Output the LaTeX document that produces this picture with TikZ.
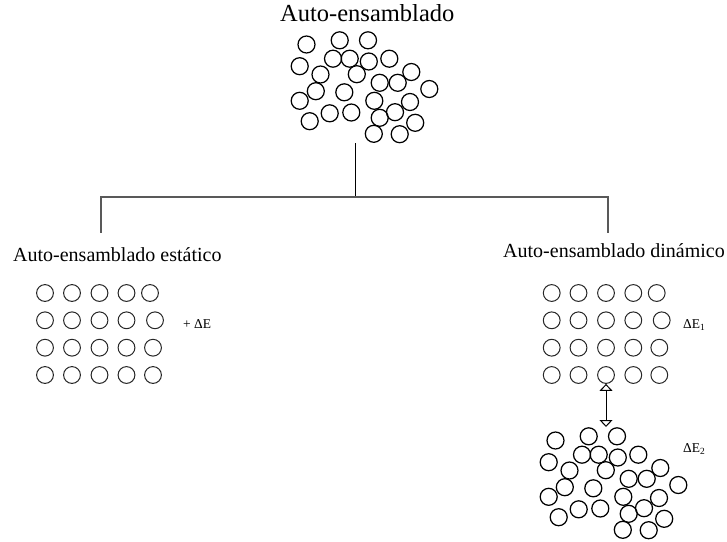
\documentclass[tikz,border=0pt]{standalone}
\usepackage{fontspec}
\setmainfont{Liberation Serif}
\usetikzlibrary{arrows.meta}
\begin{document}
\begin{tikzpicture}[x=1pt,y=-1pt,
  bead/.style={circle,draw=black,line width=1.25pt,inner sep=0pt,minimum size=17pt},
  gridbead/.style={circle,draw=black!85,line width=1pt,inner sep=0pt,minimum size=16.8pt},
  label/.style={inner sep=0pt,anchor=base west},
  titlefont/.style={font=\fontsize{24.5}{28}\selectfont},
  headfont/.style={font=\fontsize{20}{24}\selectfont},
  energyfont/.style={font=\fontsize{13.5}{15}\selectfont},
  trunk/.style={draw=black,line width=0.9pt},
  branch/.style={draw=black!65,line width=1.6pt},
  swap/.style={draw=black,line width=1pt,
    {Triangle[open,width=13pt,length=7pt]}-{Triangle[open,width=13pt,length=7pt]}}]
\useasboundingbox (0,0) rectangle (727,541);

% disordered cluster of particles (same arrangement reused below)
\def\cluster{306.5/44.5, 339.7/40.3, 368/40.3,
  299.7/66.2, 333/58.7, 349.7/58.7, 368.8/61.5, 389.3/58.7,
  320.5/74.5, 356.8/74.2, 411.3/72,
  379.7/82.8, 397.7/82.8, 429.3/89,
  315.8/91.2, 344.3/92.3,
  299.7/100.8, 374.3/100.8, 410/102,
  329.7/113.3, 351.3/112.5, 379.7/117.8, 395/112.2,
  309.7/121.2, 415.2/122.8,
  373.8/133.8, 399.7/134.2}

\node[label,titlefont] (title) at (280,21) {Auto-ensamblado};
\foreach \px/\py [count=\i] in \cluster
  \node[bead] (t\i) at (\px,\py) {};

% tree connecting the two kinds of self-assembly
\coordinate (root) at (355,143);
\coordinate (fork) at (355,196.7);
\coordinate (forkL) at (100.8,196.7);
\coordinate (forkR) at (607.7,196.7);
\coordinate (legL) at (100.8,232.5);
\coordinate (legR) at (607.7,232.5);
\draw[trunk] (root) -- (fork);
\draw[branch] (legL) -- (forkL) -- (forkR) -- (legR);

% static branch
\node[label,headfont] (static) at (13,261) {Auto-ensamblado estático};
\foreach \r/\py in {1/293,2/320.3,3/347.7,4/375} {
  \foreach \c/\px in {1/45,2/72,3/99.5,4/126.5} 
    \node[gridbead] (s\r\c) at (\px,\py) {};
}
\node[gridbead] (s15) at (150,293) {};
\node[gridbead] (s25) at (155,320.3) {};
\node[gridbead] (s35) at (153,347.7) {};
\node[gridbead] (s45) at (153,375) {};
\node[label,energyfont] (dE) at (183,328) {+ ΔE};

% dynamic branch
\node[label,headfont] (dynamic) at (503,257) {Auto-ensamblado dinámico};
\foreach \r/\py in {1/293,2/320.3,3/347.7,4/375} {
  \foreach \c/\px in {1/551.7,2/578.5,3/606,4/633.3}
    \node[gridbead] (d\r\c) at (\px,\py) {};
}
\node[gridbead] (d15) at (656.7,293) {};
\node[gridbead] (d25) at (661.7,320.3) {};
\node[gridbead] (d35) at (659.3,347.7) {};
\node[gridbead] (d45) at (659.3,375) {};
\node[label,energyfont] (dE1) at (683,328) {ΔE\textsubscript{1}};

\begin{scope}[shift={(249,396)}]
  \foreach \px/\py [count=\i] in \cluster
    \node[bead] (b\i) at (\px,\py) {};
\end{scope}
\node[label,energyfont] (dE2) at (683,452) {ΔE\textsubscript{2}};

\coordinate (swapend) at (606,427);
\draw[swap] (d43.south) -- (swapend);
\end{tikzpicture}
\end{document}
